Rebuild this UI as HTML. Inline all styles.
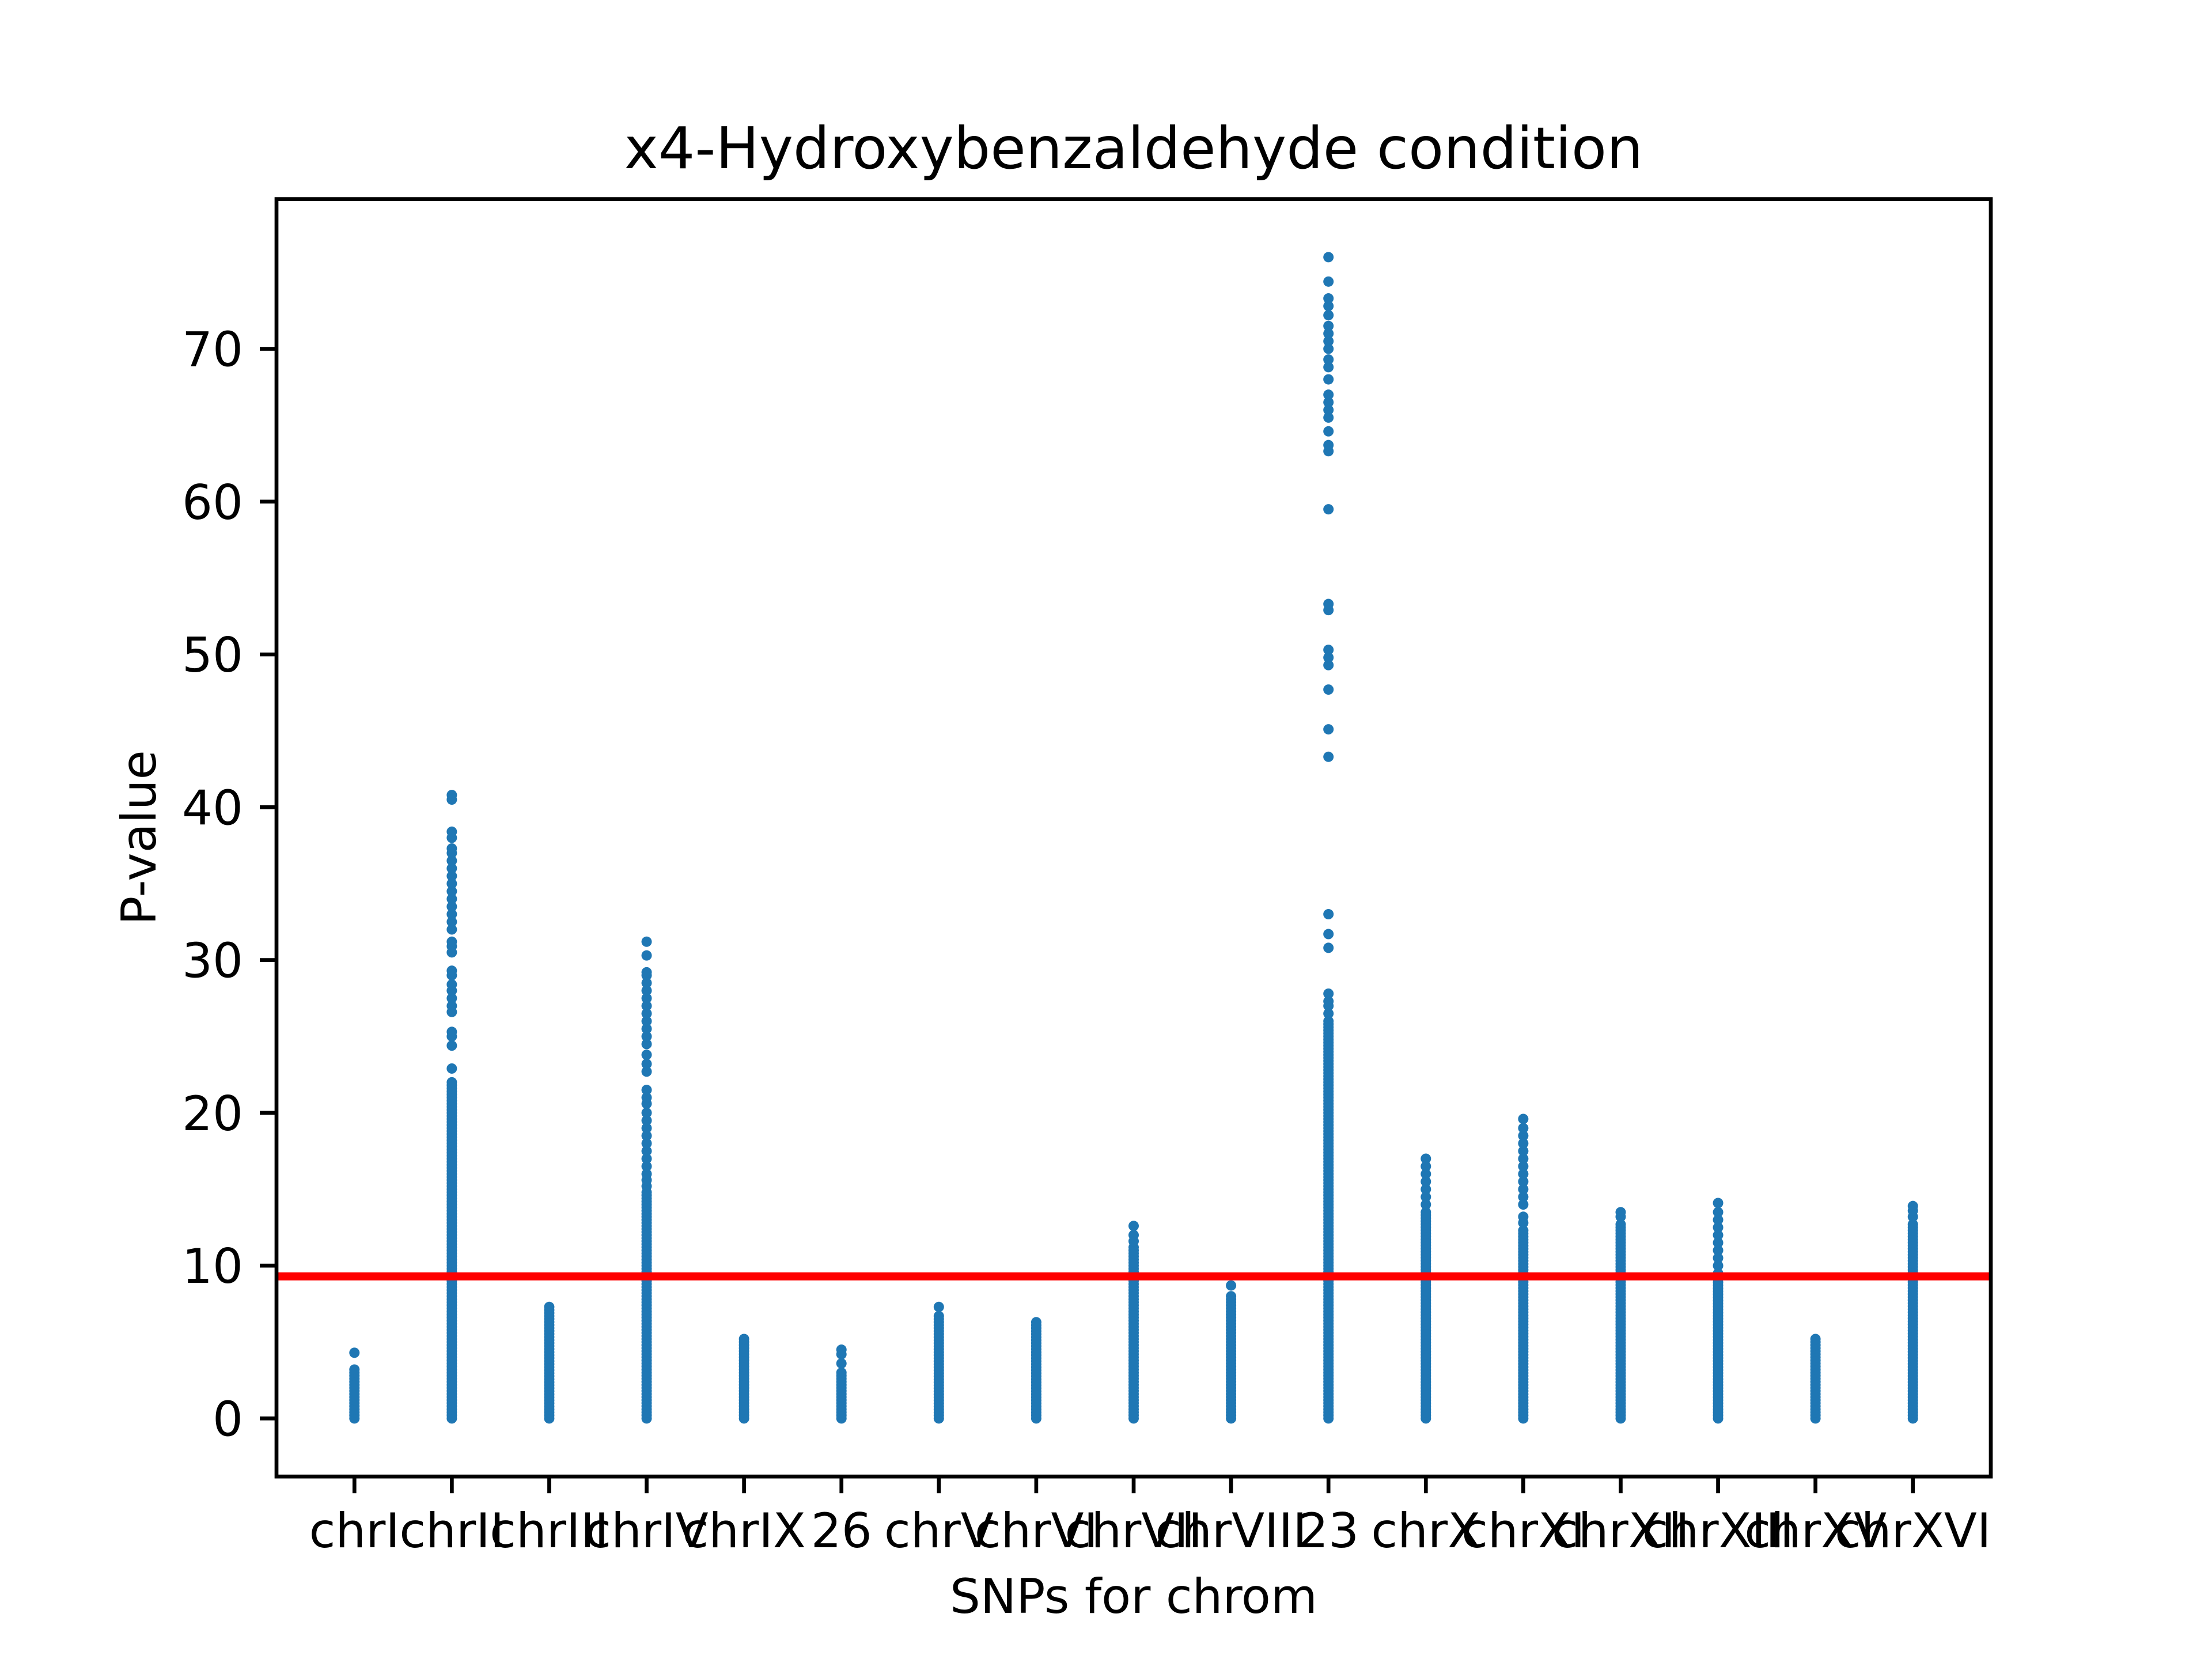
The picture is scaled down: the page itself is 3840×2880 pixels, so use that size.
<!DOCTYPE html>
<html><head><meta charset="utf-8"><style>
html,body{margin:0;padding:0;background:#fff}
svg{display:block}
text{font-family:"DejaVu Sans","Liberation Sans",sans-serif;fill:#000}
</style></head><body>
<svg id="chart" width="3840" height="2880" viewBox="0 0 3840 2880">
<rect width="3840" height="2880" fill="#fff"/>
<text x="1968" y="292" font-size="100" text-anchor="middle">x4-Hydroxybenzaldehyde condition</text>
<g id="plot"></g>
<rect x="480" y="345.6" width="2976" height="2217.6" fill="none" stroke="#000" stroke-width="6.7"/>
<text x="1968" y="2800" font-size="83.3" text-anchor="middle">SNPs for chrom</text>
<text x="0" y="0" font-size="83.3" text-anchor="middle" transform="translate(270,1454) rotate(-90)">P-value</text>
</svg>
<script>
const categories = ["chrI","chrII","chrIII","chrIV","chrIX","26","chrV","chrVI","chrVII","chrVIII","23","chrX","chrXI","chrXII","chrXIII","chrXV","chrXVI"];
const denseMax = [3.2,22.0,7.3,14.8,5.2,3.0,6.7,6.3,11.2,8.0,26.0,13.5,12.3,12.7,9.5,5.2,12.7];
const sparseValues = [
  [4.3],
  [22.9,24.4,25.0,25.3,26.6,27.0,27.5,28.0,28.4,29.0,29.3,30.5,30.9,31.2,32.0,32.5,33.0,33.5,34.0,34.5,35.0,35.5,36.0,36.5,37.0,37.3,38.0,38.4,40.5,40.8],
  [],
  [15.2,15.6,16.0,16.5,17.0,17.5,18.0,18.5,19.0,19.5,20.0,20.6,21.0,21.5,22.7,23.2,23.8,24.5,25.0,25.5,26.0,26.5,27.0,27.5,28.0,28.5,29.0,29.2,30.3,31.2],
  [],
  [3.6,4.2,4.5],
  [7.3],
  [],
  [11.6,12.0,12.6],
  [8.7],
  [26.5,27.0,27.3,27.8,30.8,31.7,33.0,43.3,45.1,47.7,49.3,49.8,50.3,52.9,53.3,59.5,63.3,63.7,64.6,65.5,66.0,66.5,67.0,68.0,68.8,69.3,70.0,70.5,71.0,71.5,72.2,72.8,73.3,74.4,76.0],
  [14.0,14.5,15.0,15.5,16.0,16.5,17.0],
  [12.8,13.2,14.0,14.5,15.0,15.5,16.0,16.5,17.0,17.5,18.0,18.5,19.0,19.6],
  [13.2,13.5],
  [10.0,10.5,11.0,11.5,12.0,12.5,13.0,13.5,14.1],
  [],
  [13.2,13.6,13.9]
];
const yTicks = [0,10,20,30,40,50,60,70];
const threshold = [9.3];

const X0=480,X1=3456,Y0=2563.2,Y1=345.6;
const xMin=-0.8,xMax=16.8,yMin=-3.8,yMax=79.8;
function xs(i){return X0+(i-xMin)/(xMax-xMin)*(X1-X0);}
function ys(v){return Y0-(v-yMin)/(yMax-yMin)*(Y0-Y1);}
const NS="http://www.w3.org/2000/svg";
const svg=document.getElementById('chart');
const plot=document.getElementById('plot');
function mk(tag,attrs,parent){const e=document.createElementNS(NS,tag);for(const k in attrs)e.setAttribute(k,attrs[k]);(parent||svg).appendChild(e);return e;}

categories.forEach((c,i)=>{
  const g=mk('g',{},plot);
  
  
  const x=xs(i);
  const dm=denseMax[i];
  const n=Math.max(2,Math.ceil(dm/0.2));
  for(let k=0;k<=n;k++){
    const v=dm*k/n;
    const p=mk('circle',{cx:x,cy:ys(v),r:9,fill:'#1f77b4'},g);
    
    
  }
  sparseValues[i].forEach(v=>{
    const p=mk('circle',{cx:x,cy:ys(v),r:9,fill:'#1f77b4'},g);
    
    
  });
  const t=mk('line',{x1:x,x2:x,y1:Y0,y2:Y0+29,stroke:'#000','stroke-width':6.7});
  
  
  const l=mk('text',{x:x,y:2686,'font-size':83.3,'text-anchor':'middle'});
  l.textContent=c;
  
  
});
threshold.forEach(v=>{
  const r=mk('line',{x1:X0,x2:X1,y1:ys(v),y2:ys(v),stroke:'#ff0000','stroke-width':14},plot);
  
  
});
yTicks.forEach(v=>{
  const y=ys(v);
  const t=mk('line',{x1:X0-29,x2:X0,y1:y,y2:y,stroke:'#000','stroke-width':6.7});
  
  
  const l=mk('text',{x:X0-58,y:y+30,'font-size':83.3,'text-anchor':'end'});
  l.textContent=String(v);
  
  
});
</script>
</body></html>
